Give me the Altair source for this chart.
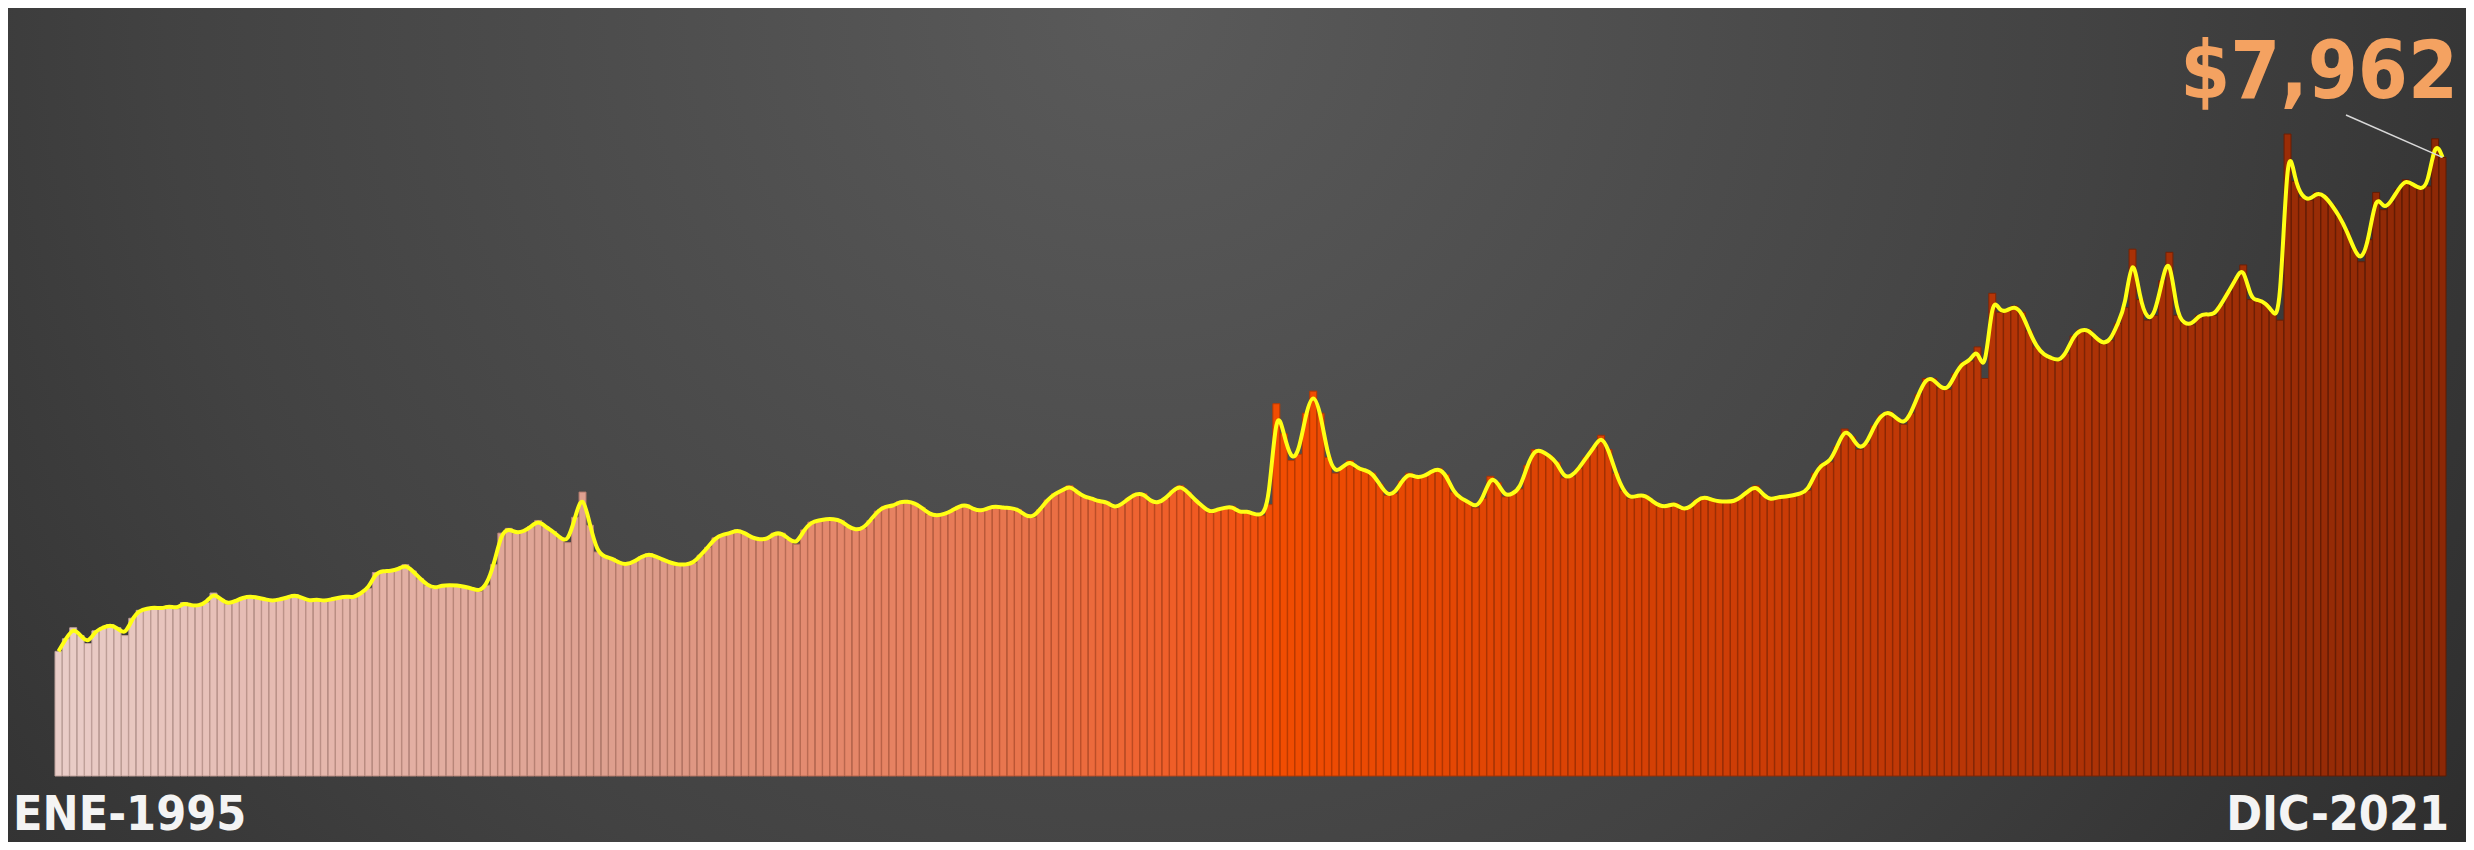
import altair as alt
import pandas as pd

MESES = ["ENE", "FEB", "MAR", "ABR", "MAY", "JUN", "JUL", "AGO", "SEP", "OCT", "NOV", "DIC"]
YEARS = list(range(1995, 2022))

VALUES = [
    1604, 1766, 1908, 1807, 1705, 1868, 1908, 1949, 1908, 1807, 2030, 2132,  # 1995
    2152, 2172, 2152, 2192, 2152, 2233, 2192, 2192, 2233, 2355, 2274, 2213,  # 1996
    2253, 2294, 2314, 2294, 2274, 2253, 2274, 2294, 2335, 2294, 2253, 2274,  # 1997
    2253, 2274, 2294, 2314, 2294, 2355, 2416, 2619, 2639, 2639, 2659, 2720,  # 1998
    2639, 2538, 2456, 2416, 2456, 2456, 2456, 2436, 2416, 2375, 2456, 2720,  # 1999
    3126, 3187, 3126, 3147, 3207, 3289, 3207, 3147, 3065, 3004, 3329, 3654,  # 2000
    3228, 2883, 2822, 2801, 2741, 2720, 2761, 2822, 2862, 2822, 2781, 2741,  # 2001
    2720, 2720, 2741, 2842, 2944, 3065, 3106, 3126, 3167, 3126, 3065, 3045,  # 2002
    3045, 3126, 3126, 3045, 2984, 3167, 3268, 3289, 3309, 3309, 3289, 3207,  # 2003
    3167, 3187, 3289, 3410, 3471, 3471, 3532, 3532, 3512, 3451, 3370, 3350,  # 2004
    3370, 3410, 3471, 3492, 3431, 3410, 3451, 3471, 3451, 3451, 3431, 3350,  # 2005
    3329, 3431, 3553, 3634, 3674, 3735, 3654, 3593, 3573, 3532, 3532, 3451,  # 2006
    3492, 3573, 3634, 3634, 3532, 3512, 3573, 3674, 3735, 3654, 3553, 3471,  # 2007
    3390, 3431, 3451, 3471, 3390, 3410, 3370, 3350, 3492, 4791, 4405, 4060,  # 2008
    4141, 4669, 4953, 4669, 4101, 3898, 3979, 4060, 3959, 3938, 3898, 3756,  # 2009
    3613, 3634, 3796, 3898, 3837, 3857, 3918, 3959, 3877, 3654, 3573, 3532,  # 2010
    3451, 3573, 3857, 3776, 3593, 3634, 3695, 3999, 4202, 4182, 4121, 4040,  # 2011
    3837, 3857, 3959, 4101, 4222, 4385, 4202, 3898, 3674, 3573, 3613, 3613,  # 2012
    3532, 3471, 3471, 3512, 3431, 3451, 3553, 3593, 3553, 3532, 3532, 3532,  # 2013
    3593, 3674, 3735, 3613, 3553, 3593, 3593, 3613, 3634, 3674, 3898, 4019,  # 2014
    4040, 4243, 4466, 4365, 4202, 4283, 4507, 4649, 4689, 4608, 4527, 4669,  # 2015
    4913, 5116, 5116, 4994, 4974, 5177, 5319, 5339, 5522, 5116, 6212, 5968,  # 2016
    5989, 6049, 5968, 5725, 5522, 5420, 5380, 5339, 5440, 5664, 5745, 5745,  # 2017
    5643, 5562, 5603, 5826, 6029, 6780, 6131, 5867, 5928, 6374, 6740, 5928,  # 2018
    5826, 5806, 5928, 5948, 5928, 6070, 6232, 6395, 6577, 6131, 6131, 6090,  # 2019
    5968, 5867, 8262, 7653, 7450, 7410, 7511, 7470, 7349, 7207, 7024, 6780,  # 2020
    6618, 6902, 7511, 7288, 7389, 7552, 7673, 7613, 7552, 7592, 8201, 7962,  # 2021
]

FILL_STOPS = [0, 80, 130, 165, 240, 323]
FILL_COLORS = ["#e9cdc8", "#dd9c8a", "#e8744c", "#f24d02", "#c63a06", "#8c2806"]
EDGE_COLORS = ["#bfa29c", "#b47868", "#bb5634", "#bb3a00", "#912a04", "#5e1a03"]

rows = []
k = 0
for yr in YEARS:
    for m in range(12):
        rows.append({"i": k, "mes": f"{yr}-{m + 1:02d}", "valor": VALUES[k]})
        k += 1
df = pd.DataFrame(rows)

W, H = 2458, 834
FONT = "DejaVu Sans Condensed, DejaVu Sans, sans-serif"

x_scale = alt.Scale(range=[47, 2438], paddingInner=0.06, paddingOuter=0)
y_scale = alt.Scale(domain=[0, 10000], range=[768, -9], nice=False)

bg = alt.Chart(alt.Data(values=[{}])).mark_rect(
    fill={
        "gradient": "radial",
        "x1": 0.46, "y1": 0.33, "r1": 0,
        "x2": 0.46, "y2": 0.33, "r2": 0.72,
        "stops": [
            {"offset": 0, "color": "#5a5a5a"},
            {"offset": 0.55, "color": "#424242"},
            {"offset": 1, "color": "#272727"},
        ],
    }
).encode(x=alt.value(0), x2=alt.value(W), y=alt.value(0), y2=alt.value(H))

bars = alt.Chart(df).mark_bar(strokeWidth=1).encode(
    x=alt.X("mes:O", scale=x_scale, axis=None),
    y=alt.Y("valor:Q", scale=y_scale, axis=None),
    fill=alt.Fill("i:Q", scale=alt.Scale(domain=FILL_STOPS, range=FILL_COLORS), legend=None),
    stroke=alt.Stroke("i:Q", scale=alt.Scale(domain=FILL_STOPS, range=EDGE_COLORS), legend=None),
)

line = alt.Chart(df).mark_line(color="#ffff14", strokeWidth=4, interpolate="basis").encode(
    x=alt.X("mes:O", scale=x_scale, axis=None),
    y=alt.Y("valor:Q", scale=y_scale, axis=None),
)

last = [{"mes": rows[-1]["mes"], "valor": VALUES[-1]}]
rule = alt.Chart(alt.Data(values=last)).mark_rule(color="#d8d8d8", strokeWidth=1.5).encode(
    x=alt.X("mes:O", scale=x_scale, axis=None),
    y=alt.Y("valor:Q", scale=y_scale, axis=None),
    x2=alt.value(2338),
    y2=alt.value(107),
)

t_start = alt.Chart(alt.Data(values=[{"t": f"{MESES[0]}-{YEARS[0]}"}])).mark_text(
    align="left", baseline="alphabetic", font=FONT, fontSize=48, fontWeight="bold", color="#f4f4f4"
).encode(x=alt.value(5), y=alt.value(822), text="t:N")

t_end = alt.Chart(alt.Data(values=[{"t": f"{MESES[-1]}-{YEARS[-1]}"}])).mark_text(
    align="right", baseline="alphabetic", font=FONT, fontSize=48, fontWeight="bold", color="#f4f4f4"
).encode(x=alt.value(2441), y=alt.value(822), text="t:N")

t_val = alt.Chart(alt.Data(values=[{"t": f"${VALUES[-1]:,}"}])).mark_text(
    align="right", baseline="alphabetic", font=FONT, fontSize=80, fontWeight="bold", color="#f4a261"
).encode(x=alt.value(2450), y=alt.value(90), text="t:N")

chart = alt.layer(bg, bars, line, rule, t_start, t_end, t_val).properties(
    width=W,
    height=H,
    autosize=alt.AutoSizeParams(type="none"),
    padding=0,
    background="#2b2b2b",
).configure_view(stroke=None)

chart.save("out.html", embed_options={"renderer": "svg", "actions": False})
